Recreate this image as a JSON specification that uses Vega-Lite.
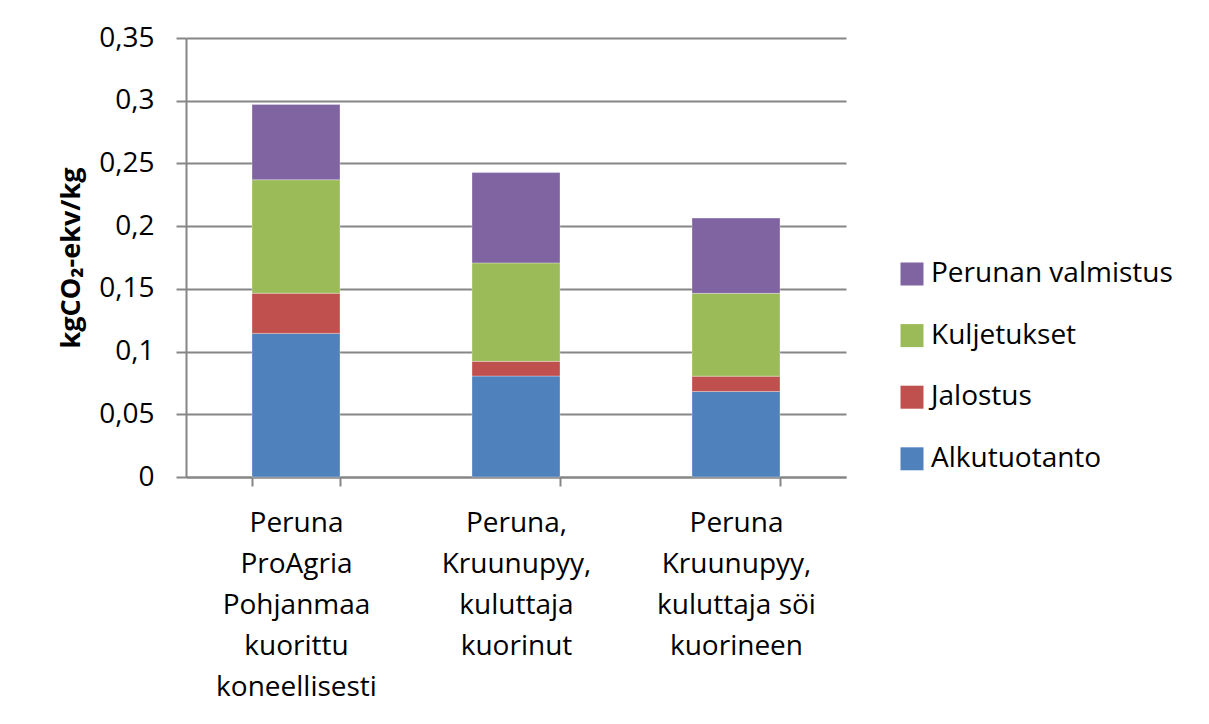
{
  "$schema": "https://vega.github.io/schema/vega-lite/v6.json",
  "width": 660,
  "height": 439,
  "autosize": "none",
  "padding": {"left": 186, "top": 38, "right": 363, "bottom": 247},
  "background": "white",
  "config": {
    "view": {"stroke": null},
    "font": "Open Sans",
    "axis": {"labelFont": "Open Sans", "titleFont": "Open Sans", "labelColor": "#000", "titleColor": "#000"},
    "legend": {"labelFont": "Open Sans"}
  },
  "data": {
    "values": [
      {"tuote": "Peruna\nProAgria\nPohjanmaa\nkuorittu\nkoneellisesti", "vaihe": "Alkutuotanto", "arvo": 0.1145},
      {"tuote": "Peruna\nProAgria\nPohjanmaa\nkuorittu\nkoneellisesti", "vaihe": "Jalostus", "arvo": 0.032},
      {"tuote": "Peruna\nProAgria\nPohjanmaa\nkuorittu\nkoneellisesti", "vaihe": "Kuljetukset", "arvo": 0.0905},
      {"tuote": "Peruna\nProAgria\nPohjanmaa\nkuorittu\nkoneellisesti", "vaihe": "Perunan valmistus", "arvo": 0.060},
      {"tuote": "Peruna,\nKruunupyy,\nkuluttaja\nkuorinut", "vaihe": "Alkutuotanto", "arvo": 0.0805},
      {"tuote": "Peruna,\nKruunupyy,\nkuluttaja\nkuorinut", "vaihe": "Jalostus", "arvo": 0.0117},
      {"tuote": "Peruna,\nKruunupyy,\nkuluttaja\nkuorinut", "vaihe": "Kuljetukset", "arvo": 0.0785},
      {"tuote": "Peruna,\nKruunupyy,\nkuluttaja\nkuorinut", "vaihe": "Perunan valmistus", "arvo": 0.072},
      {"tuote": "Peruna\nKruunupyy,\nkuluttaja söi\nkuorineen", "vaihe": "Alkutuotanto", "arvo": 0.0682},
      {"tuote": "Peruna\nKruunupyy,\nkuluttaja söi\nkuorineen", "vaihe": "Jalostus", "arvo": 0.0122},
      {"tuote": "Peruna\nKruunupyy,\nkuluttaja söi\nkuorineen", "vaihe": "Kuljetukset", "arvo": 0.066},
      {"tuote": "Peruna\nKruunupyy,\nkuluttaja söi\nkuorineen", "vaihe": "Perunan valmistus", "arvo": 0.060}
    ]
  },
  "mark": {"type": "bar", "stroke": "white", "strokeWidth": 0.5, "strokeOpacity": 0.6},
  "encoding": {
    "x": {
      "field": "tuote",
      "type": "nominal",
      "sort": null,
      "scale": {"paddingInner": 0.6, "paddingOuter": 0.3},
      "axis": {
        "title": null,
        "labelAngle": 0,
        "labelExpr": "split(datum.label, '\\n')",
        "labelFontSize": 28,
        "labelLineHeight": 41,
        "labelBaseline": "top",
        "labelPadding": 23,
        "labelLimit": 400,
        "tickBand": "extent",
        "tickSize": 9,
        "tickColor": "#868686",
        "tickWidth": 2,
        "domainColor": "#868686",
        "domainWidth": 2,
        "grid": false
      }
    },
    "y": {
      "field": "arvo",
      "type": "quantitative",
      "stack": "zero",
      "scale": {"domain": [0, 0.35], "nice": false, "zero": true},
      "axis": {
        "title": ["kgCO₂-ekv/kg"],
        "titleFontSize": 27,
        "titleFontWeight": "bold",
        "titlePadding": 13,
        "values": [0, 0.05, 0.1, 0.15, 0.2, 0.25, 0.3, 0.35],
        "format": "~g",
        "labelExpr": "replace(datum.label, '.', ',')",
        "labelFontSize": 28,
        "labelPadding": 22,
        "tickSize": 10,
        "tickColor": "#868686",
        "tickWidth": 2,
        "domainColor": "#868686",
        "domainWidth": 2,
        "gridColor": "#868686",
        "gridWidth": 2
      }
    },
    "color": {
      "field": "vaihe",
      "type": "nominal",
      "scale": {
        "domain": ["Perunan valmistus", "Kuljetukset", "Jalostus", "Alkutuotanto"],
        "range": ["#8064A2", "#9BBB59", "#C0504D", "#4F81BD"]
      },
      "legend": {
        "title": null,
        "orient": "none",
        "legendX": 712,
        "legendY": 222,
        "symbolType": "square",
        "symbolSize": 529,
        "symbolStrokeWidth": 0,
        "labelFontSize": 28,
        "labelColor": "#000",
        "labelOffset": 5,
        "rowPadding": 33.6,
        "labelLimit": 400
      }
    },
    "order": {"field": "vaihe", "sort": "ascending"}
  }
}
